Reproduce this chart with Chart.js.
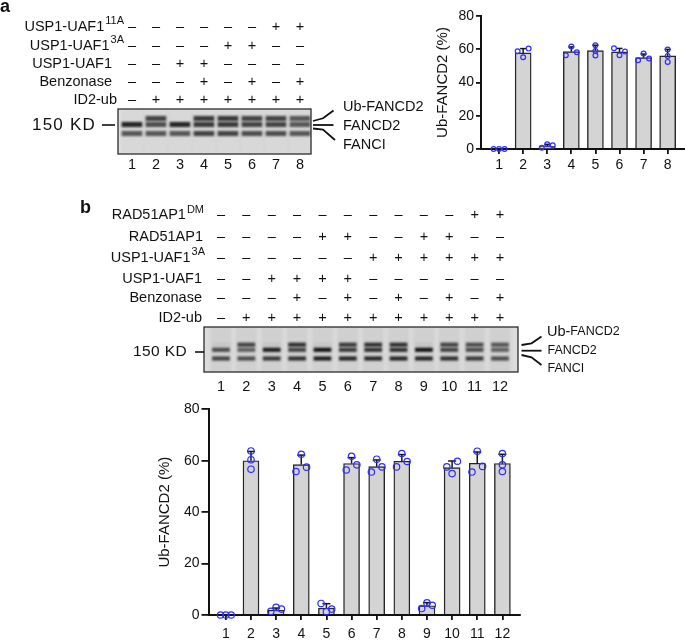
<!DOCTYPE html>
<html>
<head>
<meta charset="utf-8">
<title>USP1-UAF1 / Ub-FANCD2</title>
<script src="https://cdn.jsdelivr.net/npm/chart.js@4.4.1/dist/chart.umd.min.js"></script>
<style>
  html, body { margin: 0; padding: 0; background: #fff; }
  body { width: 685px; height: 640px; position: relative; overflow: hidden; }
  canvas { position: absolute; }
</style>
</head>
<body>
<canvas id="gelA" width="430" height="175" style="left:0;top:0"></canvas>
<canvas id="barA" width="285" height="175" style="left:400px;top:0"></canvas>
<canvas id="gelB" width="685" height="205" style="left:0;top:190px"></canvas>
<canvas id="barB" width="585" height="245" style="left:100px;top:395px"></canvas>
<script>
const FONT = "'Liberation Sans', Arial, Helvetica, sans-serif"
Chart.defaults.font.family = FONT
Chart.defaults.color = "#111"
Chart.defaults.animation = false

// ---------- panel a ----------
const lanesA = [1, 2, 3, 4, 5, 6, 7, 8]
const rowNamesA = ["USP1-UAF1", "USP1-UAF1", "USP1-UAF1", "Benzonase", "ID2-ub"]
const rowSupsA = ["11A", "3A", "", "", ""]
const usp11A_A = ["-", "-", "-", "-", "-", "-", "+", "+"]
const usp3A_A = ["-", "-", "-", "-", "+", "+", "-", "-"]
const usp_A = ["-", "-", "+", "+", "-", "-", "-", "-"]
const benz_A = ["-", "-", "-", "+", "-", "+", "-", "+"]
const id2ub_A = ["-", "+", "+", "+", "+", "+", "+", "+"]
// band darkness per lane (Ub-FANCD2, FANCD2, FANCI)
const gelA_ub = [0, 0.75, 0, 0.8, 0.8, 0.75, 0.75, 0.65]
const gelA_d2 = [0.9, 0.7, 0.9, 0.8, 0.8, 0.75, 0.75, 0.65]
const gelA_fi = [0.65, 0.65, 0.65, 0.75, 0.75, 0.7, 0.7, 0.65]
const gelA_rows = [9.5, 15.5, 24.5]   // migration (gel units, 0-45)
// quantification
const meanA = [0, 57.8, 1.8, 58.6, 59.2, 58.4, 55.0, 56.0]
const sdA = [0, 2.6, 1.0, 2.8, 3.2, 2.1, 2.1, 3.9]
const repA1 = [0, 58.8, 0.8, 56.4, 62.4, 60.6, 53.4, 59.8]
const repA2 = [0, 55.2, 2.8, 61.6, 59.0, 56.4, 57.4, 56.0]
const repA3 = [0, 60.4, 2.2, 58.2, 56.2, 58.6, 54.4, 52.4]

// ---------- panel b ----------
const lanesB = [1, 2, 3, 4, 5, 6, 7, 8, 9, 10, 11, 12]
const rowNamesB = ["RAD51AP1", "RAD51AP1", "USP1-UAF1", "USP1-UAF1", "Benzonase", "ID2-ub"]
const rowSupsB = ["DM", "", "3A", "", "", ""]
const radDM_B = ["-", "-", "-", "-", "-", "-", "-", "-", "-", "-", "+", "+"]
const rad_B = ["-", "-", "-", "-", "+", "+", "-", "-", "+", "+", "-", "-"]
const usp3A_B = ["-", "-", "-", "-", "-", "-", "+", "+", "+", "+", "+", "+"]
const usp_B = ["-", "-", "+", "+", "+", "+", "-", "-", "-", "-", "-", "-"]
const benz_B = ["-", "-", "-", "+", "-", "+", "-", "+", "-", "+", "-", "+"]
const id2ub_B = ["-", "+", "+", "+", "+", "+", "+", "+", "+", "+", "+", "+"]
const gelB_ub = [0.05, 0.75, 0.05, 0.85, 0.05, 0.8, 0.85, 0.85, 0.05, 0.75, 0.7, 0.65]
const gelB_d2 = [0.7, 0.6, 0.95, 0.75, 1, 0.8, 0.85, 0.85, 1, 0.75, 0.7, 0.6]
const gelB_fi = [0.75, 0.7, 0.8, 0.85, 0.95, 0.9, 0.9, 0.9, 0.9, 0.85, 0.8, 0.7]
const gelB_rows = [17.7, 22.8, 31.5]
const meanB = [0, 60.0, 1.9, 58.5, 2.7, 58.9, 57.7, 59.8, 3.6, 57.3, 59.0, 58.9]
const sdB = [0, 3.6, 0.8, 3.7, 1.7, 2.3, 2.6, 2.6, 1.2, 2.6, 4.4, 3.6]
const repB1 = [0, 63.8, 1.4, 55.8, 4.5, 56.4, 55.6, 57.6, 2.5, 57.6, 55.6, 62.8]
const repB2 = [0, 60.4, 3.0, 62.5, 1.3, 61.7, 60.6, 62.8, 4.7, 55.0, 63.7, 58.4]
const repB3 = [0, 56.7, 2.3, 57.5, 2.3, 58.4, 57.6, 59.7, 3.8, 59.8, 57.8, 55.8]

// ---------- helpers ----------
function drawLine(ctx, pts) {
  ctx.beginPath()
  pts.forEach((p, i) => (i ? ctx.lineTo(p[0], p[1]) : ctx.moveTo(p[0], p[1])))
  ctx.stroke()
}

function drawRowLabel(ctx, name, sup, right, y) {
  ctx.font = "14.5px " + FONT
  const wb = ctx.measureText(name).width
  ctx.font = "11px " + FONT
  const ws = sup ? ctx.measureText(sup).width + 1 : 0
  ctx.textAlign = "left"
  ctx.textBaseline = "middle"
  ctx.font = "14.5px " + FONT
  ctx.fillText(name, right - wb - ws, y)
  if (sup) {
    ctx.font = "11px " + FONT
    ctx.fillText(sup, right - ws + 1, y - 5.5)
  }
}

// table of +/-, lane numbers, markers and band names around a gel
function gelDecor(L) {
  return {
    id: "gelDecor",
    beforeDatasetsDraw(chart) {
      const { ctx, chartArea: a } = chart
      ctx.save()
      ctx.fillStyle = L.bg
      ctx.fillRect(a.left, a.top, a.right - a.left, a.bottom - a.top)
      ctx.restore()
    },
    beforeDatasetDraw(chart, args) {
      chart.ctx.filter = args.meta.order === 1 ? "blur(0.8px)" : "blur(1.5px)"
    },
    afterDatasetDraw(chart) {
      chart.ctx.filter = "none"
    },
    afterDraw(chart) {
      const { ctx, chartArea: a, scales: { x } } = chart
      ctx.save()
      ctx.strokeStyle = "#2b2b2b"
      ctx.lineWidth = 1.3
      ctx.strokeRect(a.left, a.top, a.right - a.left, a.bottom - a.top)
      ctx.translate(0, -L.top)
      ctx.fillStyle = "#111"
      // panel letter
      ctx.font = "bold 18px " + FONT
      ctx.textAlign = "left"
      ctx.textBaseline = "alphabetic"
      ctx.fillText(L.letter[0], L.letter[1], L.letter[2])
      // treatment rows
      L.rows.forEach((r, k) => {
        drawRowLabel(ctx, r.name, r.sup, L.rowRight[k], L.rowY[k])
        ctx.font = "14.5px " + FONT
        ctx.textAlign = "center"
        ctx.textBaseline = "middle"
        r.signs.forEach((s, i) => {
          ctx.fillText(s === "+" ? "+" : "\u2013", x.getPixelForValue(L.lanes[i]), L.rowY[k])
        })
      })
      // lane numbers
      ctx.font = "14.5px " + FONT
      ctx.textAlign = "center"
      ctx.textBaseline = "middle"
      L.lanes.forEach(l => ctx.fillText(String(l), x.getPixelForValue(l), L.laneNumY))
      // size marker
      ctx.textAlign = "left"
      ctx.font = L.kd.font + " " + FONT
      ctx.letterSpacing = L.kd.spacing
      ctx.fillText("150 KD", L.kd.x, L.kd.y)
      ctx.letterSpacing = "0px"
      ctx.strokeStyle = "#111"
      ctx.lineWidth = 1.6
      drawLine(ctx, [[L.kd.line[0], L.kd.y], [L.kd.line[1], L.kd.y]])
      // band brackets
      ctx.lineWidth = 1.8
      L.brackets.forEach(b => drawLine(ctx, b))
      L.names.forEach(n => {
        let px = n.x
        n.parts.forEach(p => {
          ctx.font = p[1] + " " + FONT
          ctx.fillText(p[0], px, n.y)
          px += ctx.measureText(p[0]).width
        })
      })
      ctx.restore()
    }
  }
}

function gelChart(id, lanes, levels, rows, bandH, bandW, xRange, pad, L) {
  const datasets = [{
    data: lanes.map(l => ({ x: l, y: [0, 45] })),
    backgroundColor: L.smear,
    barThickness: bandW + 4,
    grouped: false,
    order: 2
  }]
  rows.forEach((row, k) => {
    datasets.push({
      data: lanes.map(l => ({ x: l, y: [row - bandH / 2, row + bandH / 2] })),
      backgroundColor: levels[k].map(v => `rgba(18,18,18,${v})`),
      barThickness: bandW,
      grouped: false,
      order: 1
    })
  })
  return new Chart(document.getElementById(id), {
    type: "bar",
    data: { datasets },
    options: {
      responsive: false,
      layout: { padding: pad, autoPadding: false },
      plugins: { legend: { display: false }, tooltip: { enabled: false } },
      scales: {
        x: { type: "linear", display: false, min: xRange[0], max: xRange[1], offset: false, grid: { offset: false } },
        y: { type: "linear", display: false, min: 0, max: 45, reverse: true }
      }
    },
    plugins: [gelDecor(L)]
  })
}

function errorBars(lanes, mean, sd, cap) {
  return {
    id: "errorBars",
    afterDatasetDraw(chart, args) {
      if (args.meta.type !== "bar") return
      const { ctx, scales: { x, y } } = chart
      ctx.save()
      ctx.strokeStyle = "#151515"
      ctx.lineWidth = 1.5
      lanes.forEach((l, i) => {
        if (!sd[i]) return
        const px = x.getPixelForValue(l)
        const y0 = y.getPixelForValue(mean[i])
        const y1 = y.getPixelForValue(mean[i] + sd[i])
        drawLine(ctx, [[px, y0], [px, y1]])
        drawLine(ctx, [[px - cap / 2, y1], [px + cap / 2, y1]])
      })
      ctx.restore()
    }
  }
}

function barChart(id, lanes, mean, sd, reps, o) {
  const chart = new Chart(document.getElementById(id), {
    type: "bar",
    data: {
      datasets: [
        {
          type: "bar",
          data: lanes.map((l, i) => ({ x: l, y: mean[i] })),
          backgroundColor: "#d4d4d4",
          borderColor: "#262626",
          borderWidth: 1.4,
          barThickness: 16,
          order: 1
        },
        {
          type: "scatter",
          data: [],
          pointRadius: o.radius,
          pointBorderWidth: 1.2,
          pointBorderColor: "#2d2dff",
          pointBackgroundColor: "rgba(0,0,0,0)",
          clip: false,
          order: 0
        }
      ]
    },
    options: {
      responsive: false,
      layout: { padding: o.pad, autoPadding: false },
      plugins: { legend: { display: false }, tooltip: { enabled: false } },
      scales: {
        x: {
          type: "linear",
          min: o.xRange[0],
          max: o.xRange[1],
          offset: false,
          afterFit: s => { s.height = o.xHeight },
          afterBuildTicks: s => { s.ticks = lanes.map(v => ({ value: v })) },
          grid: { offset: false, drawOnChartArea: false, drawTicks: true, tickLength: 5, color: "#111", lineWidth: 1.8 },
          border: { display: true, color: "#111", width: 2 },
          ticks: { padding: o.xPad, autoSkip: false, maxRotation: 0, font: { size: 14 }, color: "#111", callback: v => String(v) }
        },
        y: {
          min: 0,
          max: 80,
          afterFit: s => { s.width = o.yWidth },
          grid: { drawOnChartArea: false, drawTicks: true, tickLength: o.yTick, color: "#111", lineWidth: 1.8 },
          border: { display: true, color: "#111", width: 2 },
          ticks: { stepSize: 20, padding: 2, font: { size: 14 }, color: "#111" },
          title: { display: true, text: "Ub-FANCD2 (%)", font: { size: 15 }, color: "#111", padding: { top: o.titlePad, bottom: 0 } }
        }
      }
    },
    plugins: [errorBars(lanes, mean, sd, o.cap)]
  })
  // place replicate dots, side by side only where they would overlap
  const { x, y } = chart.scales
  const laneW = x.getPixelForValue(2) - x.getPixelForValue(1)
  const pts = []
  lanes.forEach((l, i) => {
    const pix = reps.map(r => y.getPixelForValue(r[i]))
    let crowded = false
    for (let a = 0; a < pix.length; a++)
      for (let b = a + 1; b < pix.length; b++)
        if (Math.abs(pix[a] - pix[b]) < o.gap) crowded = true
    reps.forEach((r, k) => pts.push({ x: l + (crowded ? (k - 1) * o.step / laneW : 0), y: r[i] }))
  })
  chart.data.datasets[1].data = pts
  chart.update()
  return chart
}

// ---------- build ----------
gelChart("gelA", lanesA, [gelA_ub, gelA_d2, gelA_fi], gelA_rows, 4.5, 20, [0.42, 8.46],
  { left: 118, right: 119, top: 109, bottom: 21 },
  {
    top: 0, lanes: lanesA, bg: "#e6e6e6", smear: "rgba(0,0,0,0.06)",
    letter: ["a", 0, 12],
    rows: [usp11A_A, usp3A_A, usp_A, benz_A, id2ub_A].map((s, k) => ({ name: rowNamesA[k], sup: rowSupsA[k], signs: s })),
    rowY: [26.5, 45.5, 64, 82, 100],
    rowRight: [124, 124, 112, 112, 117],
    laneNumY: 164.5,
    kd: { x: 32, y: 125, line: [102, 115], font: "17px", spacing: "1.2px" },
    brackets: [
      [[313, 121], [323, 118.3], [333.5, 110.5]],
      [[313, 125], [333.5, 125]],
      [[313, 128.5], [323, 129.5], [335, 140]]
    ],
    names: [
      { x: 343, y: 107, parts: [["Ub-FANCD2", "14.5px"]] },
      { x: 343, y: 126, parts: [["FANCD2", "14.5px"]] },
      { x: 343, y: 145, parts: [["FANCI", "14.5px"]] }
    ]
  })

gelChart("gelB", lanesB, [gelB_ub, gelB_d2, gelB_fi], gelB_rows, 3.5, 17, [0.33, 12.71],
  { left: 204, right: 167, top: 137, bottom: 23 },
  {
    top: 190, lanes: lanesB, bg: "#dcdcdc", smear: "rgba(0,0,0,0.05)",
    letter: ["b", 80, 213],
    rows: [radDM_B, rad_B, usp3A_B, usp_B, benz_B, id2ub_B].map((s, k) => ({ name: rowNamesB[k], sup: rowSupsB[k], signs: s })),
    rowY: [215, 236.7, 257.7, 279, 298.3, 317.7],
    rowRight: [204, 203, 205, 202, 202, 202],
    laneNumY: 387,
    kd: { x: 133, y: 352, line: [195, 204], font: "15.5px", spacing: "0.4px" },
    brackets: [
      [[521.5, 345], [531.5, 343.3], [541.5, 336.5]],
      [[521.5, 350.7], [541.5, 350.7]],
      [[521.5, 355], [531.5, 357.3], [541.5, 365]]
    ],
    names: [
      { x: 547, y: 332, parts: [["Ub-", "14.5px"], ["FANCD2", "12.5px"]] },
      { x: 547.5, y: 351, parts: [["FANCD2", "12.5px"]] },
      { x: 547.5, y: 368.5, parts: [["FANCI", "12.5px"]] }
    ]
  })

barChart("barA", lanesA, meanA, sdA, [repA1, repA2, repA3], {
  pad: { left: 0, right: 0, top: 16, bottom: 0 },
  xRange: [0.25, 8.72], xHeight: 26, xPad: 3, yWidth: 81, yTick: 5, titlePad: 34,
  radius: 2.4, gap: 4.5, step: 5.5, cap: 6
})

barChart("barB", lanesB, meanB, sdB, [repB1, repB2, repB3], {
  pad: { left: 0, right: 165, top: 14.3, bottom: 0 },
  xRange: [0.31, 12.7], xHeight: 25, xPad: 6, yWidth: 108.5, yTick: 7, titlePad: 56,
  radius: 3.2, gap: 6.2, step: 5.3, cap: 8
})
</script>
</body>
</html>
